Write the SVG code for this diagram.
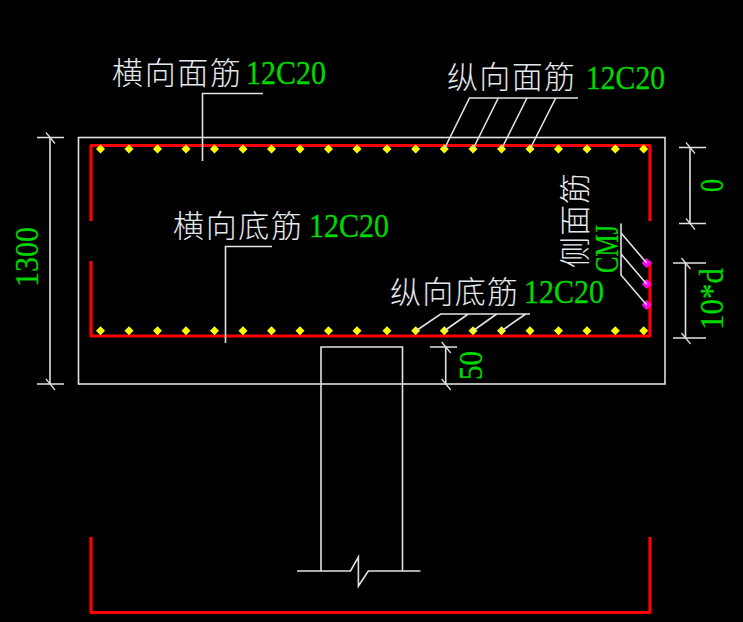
<svg xmlns="http://www.w3.org/2000/svg" width="743" height="622" viewBox="0 0 743 622">
<style>
.w{fill:none;stroke:#e2e2e2;stroke-width:1.6}
.t{fill:none;stroke:#e2e2e2;stroke-width:1.2}
.r{fill:none;stroke:#ff0000;stroke-width:3.2;stroke-linejoin:round}
.cn{font-family:"Noto Sans CJK SC","Noto Sans CJK JP",sans-serif;font-size:31px;font-weight:300;fill:#e4e8ec}
.g{font-family:"Liberation Serif","Times New Roman",serif;font-size:33px;fill:#00d800;stroke:#00d800;stroke-width:.3}
</style>
<defs>
<path id="y" d="M0-4.500 L4.500 0 L0 4.500 L-4.500 0Z" fill="#ffff00"/>
<path id="m" d="M0-5 L5 0 L0 5 L-5 0Z" fill="#ff00ff"/>
<path id="s" d="M-4-5 L5 6" class="t"/>
</defs>
<rect width="743" height="622" fill="#000"/>
<g id="beam"><rect class="w" x="78.5" y="137.5" width="586.5" height="246.5"/></g>
<g id="column"><path class="w" d="M321 384V347H402.500V571M321 384V571M297 571H350.500L358.400 557V586L368.300 571H420.500"/></g>
<g id="rebar">
<path class="r" d="M91 221V145.500H650V221"/>
<path class="r" d="M91 261V336H650V261"/>
<path class="r" d="M91 537V612.500H650V537"/>
</g>
<g id="bars-top">
<use href="#y" x="100.500" y="149"/><use href="#y" x="129" y="149"/><use href="#y" x="157.500" y="149"/><use href="#y" x="186" y="149"/><use href="#y" x="214.500" y="149"/><use href="#y" x="243" y="149"/><use href="#y" x="271.500" y="149"/><use href="#y" x="300" y="149"/><use href="#y" x="328.500" y="149"/><use href="#y" x="357" y="149"/><use href="#y" x="387" y="149"/><use href="#y" x="415.700" y="149"/><use href="#y" x="444.300" y="149"/><use href="#y" x="473" y="149"/><use href="#y" x="501.500" y="149"/><use href="#y" x="530" y="149"/><use href="#y" x="558.500" y="149"/><use href="#y" x="587" y="149"/><use href="#y" x="615.300" y="149"/><use href="#y" x="643.700" y="149"/>
</g>
<g id="bars-bottom">
<use href="#y" x="100.500" y="330.700"/><use href="#y" x="129" y="330.700"/><use href="#y" x="157.500" y="330.700"/><use href="#y" x="186" y="330.700"/><use href="#y" x="214.500" y="330.700"/><use href="#y" x="243" y="330.700"/><use href="#y" x="271.500" y="330.700"/><use href="#y" x="300" y="330.700"/><use href="#y" x="328.500" y="330.700"/><use href="#y" x="357" y="330.700"/><use href="#y" x="387" y="330.700"/><use href="#y" x="415.700" y="330.700"/><use href="#y" x="444.300" y="330.700"/><use href="#y" x="473" y="330.700"/><use href="#y" x="501.500" y="330.700"/><use href="#y" x="530" y="330.700"/><use href="#y" x="558.500" y="330.700"/><use href="#y" x="587" y="330.700"/><use href="#y" x="615.300" y="330.700"/><use href="#y" x="643.700" y="330.700"/>
</g>
<g id="bars-side"><use href="#m" x="646.700" y="263"/><use href="#m" x="646.700" y="284"/><use href="#m" x="646.700" y="305"/></g>
<g id="connectors">
<path class="w" d="M263 93.500H202.500V161"/>
<path class="w" d="M272 246.500H225.500V343"/>
<path class="w" d="M578 98H469.500L444.300 149M498.300 98L473 149M527 98L501.500 149M555.700 98L530 149"/>
<path class="w" d="M530 314H440.700L415.700 331M468.300 314L444 331M496.700 314L472.700 331M525.700 314L501.300 331"/>
<path class="w" d="M621 223.500V275L646.700 305M621 233L646.700 263M621 254L646.700 284"/>
</g>
<g id="dim-1300"><path class="w" d="M37 137.500H64M37 384H64M50 137.500V384"/><use href="#s" x="50" y="137.500"/><use href="#s" x="50" y="384"/>
<text class="g" transform="translate(38 287) rotate(-90)" textLength="60" lengthAdjust="spacingAndGlyphs">1300</text></g>
<g id="dim-0"><path class="w" d="M679 147.500H706M679 223.500H706M690 147.500V223.500"/><use href="#s" x="690" y="147.500"/><use href="#s" x="690" y="223.500"/>
<text class="g" transform="translate(723 192) rotate(-90)" textLength="13" lengthAdjust="spacingAndGlyphs">0</text></g>
<g id="dim-10d"><path class="w" d="M673 263H706M673 338H706M685.500 263V338"/><use href="#s" x="685.500" y="263"/><use href="#s" x="685.500" y="338"/>
<text class="g" transform="translate(723 330) rotate(-90)" textLength="62" lengthAdjust="spacingAndGlyphs">10*d</text></g>
<g id="dim-50"><path class="w" d="M430 347H457M445.700 347V384"/><use href="#s" x="445.700" y="347"/><use href="#s" x="445.700" y="384"/>
<text class="g" transform="translate(482 380) rotate(-90)" textLength="29" lengthAdjust="spacingAndGlyphs">50</text></g>
<g id="labels">
<text class="cn" x="112" y="84" textLength="129">横向面筋</text>
<text class="g" x="246" y="84" textLength="80" lengthAdjust="spacingAndGlyphs">12C20</text>
<text class="cn" x="447" y="88" textLength="128">纵向面筋</text>
<text class="g" x="586" y="89" textLength="79" lengthAdjust="spacingAndGlyphs">12C20</text>
<text class="cn" x="173" y="237" textLength="129">横向底筋</text>
<text class="g" x="309" y="237" textLength="80" lengthAdjust="spacingAndGlyphs">12C20</text>
<text class="cn" x="390" y="303" textLength="128">纵向底筋</text>
<text class="g" x="524" y="303" textLength="80" lengthAdjust="spacingAndGlyphs">12C20</text>
<text class="cn" transform="translate(586 268) rotate(-90)" textLength="95">侧面筋</text>
<text class="g" transform="translate(618 273) rotate(-90)" textLength="48" lengthAdjust="spacingAndGlyphs">CMJ</text>
</g>
</svg>
